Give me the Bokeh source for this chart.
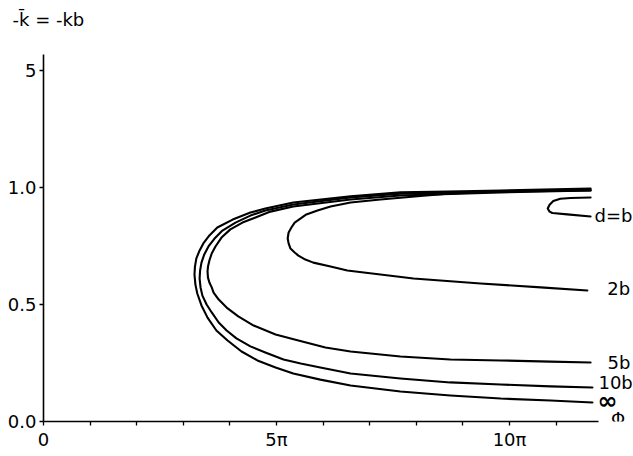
from bokeh.plotting import figure
from bokeh.models import Range1d, FixedTicker
from bokeh.embed import file_html
from bokeh.resources import INLINE
from bokeh.core.properties import value

# Phi in multiples of pi, ordinate -k_bar
inf_x = [11.74, 9.81, 8.67, 7.66, 6.59, 5.36, 4.76, 4.44, 4.06, 3.73, 3.56, 3.43, 3.35, 3.28, 3.25, 3.24, 3.26, 3.30,
         3.39, 3.52, 3.71, 3.95, 4.25, 4.59, 4.98, 5.36, 5.94, 6.59, 7.66, 8.73, 9.81, 10.88, 11.78]
inf_y = [0.996, 0.987, 0.983, 0.979, 0.962, 0.936, 0.910, 0.893, 0.863, 0.829, 0.795, 0.761, 0.731, 0.697, 0.662, 0.628, 0.585, 0.547,
         0.496, 0.444, 0.389, 0.346, 0.299, 0.261, 0.231, 0.205, 0.179, 0.154, 0.128, 0.111, 0.098, 0.090, 0.081]

d10_x = [11.74, 9.81, 7.66, 6.59, 5.36, 4.76, 4.44, 4.12, 3.84, 3.67, 3.54, 3.45, 3.39, 3.36, 3.35, 3.37, 3.41,
         3.50, 3.61, 3.76, 3.93, 4.14, 4.44, 4.76, 5.15, 5.52, 5.94, 6.59, 7.66, 8.73, 9.81, 10.88, 11.78]
d10_y = [0.991, 0.983, 0.974, 0.957, 0.927, 0.902, 0.880, 0.850, 0.816, 0.782, 0.748, 0.714, 0.679, 0.645, 0.611, 0.573, 0.538,
         0.500, 0.466, 0.423, 0.389, 0.355, 0.321, 0.295, 0.265, 0.248, 0.231, 0.205, 0.184, 0.167, 0.158, 0.150, 0.145]

d5_x = [11.74, 9.81, 7.66, 6.59, 5.36, 4.87, 4.55, 4.27, 4.01, 3.82, 3.69, 3.61, 3.56, 3.53, 3.52, 3.53, 3.56, 3.61,
        3.65, 3.76, 3.93, 4.18, 4.51, 4.98, 5.47, 6.05, 6.59, 7.66, 8.73, 9.81, 10.88, 11.74]
d5_y = [0.987, 0.979, 0.966, 0.949, 0.919, 0.897, 0.872, 0.850, 0.821, 0.786, 0.748, 0.718, 0.688, 0.662, 0.641, 0.615, 0.594, 0.573,
        0.551, 0.521, 0.487, 0.449, 0.410, 0.372, 0.346, 0.316, 0.299, 0.278, 0.265, 0.261, 0.256, 0.252]

d2_x = [11.74, 9.81, 8.67, 8.09, 7.23, 6.59, 6.16, 5.88, 5.64, 5.52, 5.39, 5.32, 5.26, 5.24, 5.26, 5.30, 5.39,
        5.47, 5.62, 5.79, 6.16, 6.52, 7.23, 7.94, 9.38, 10.67, 11.67]
d2_y = [0.987, 0.983, 0.974, 0.964, 0.949, 0.936, 0.919, 0.902, 0.885, 0.868, 0.850, 0.829, 0.808, 0.782, 0.761, 0.739, 0.722,
        0.709, 0.692, 0.679, 0.662, 0.645, 0.628, 0.611, 0.590, 0.573, 0.560]

d1_x = [11.74, 11.31, 11.09, 10.94, 10.86, 10.82, 10.86, 10.92, 11.24, 11.74]
d1_y = [0.957, 0.955, 0.952, 0.942, 0.926, 0.910, 0.897, 0.891, 0.885, 0.876]

curve_names = ["d=b", "2b", "5b", "10b", "\u221e"]
x_ticks = [0, 5, 10]
x_minor = [1, 2, 3, 4, 6, 7, 8, 9, 11]
x_tick_labels = ["0", "5\u03c0", "10\u03c0"]
y_ticks = [0.0, 0.5, 1.0, 1.5]
y_tick_labels = ["0.0", "0.5", "1.0", "5"]
x_axis_end = 11.9
y_axis_end = 1.57
x_title = "\u03a6"
y_title = "-k\u0304 = -kb"

FONT = "DejaVu Sans"
W, H = 633, 456
ML, MB, MT = 43, 35, 30
px_per_x = 46.6
px_per_y = 234.0

p = figure(width=W, height=H, output_backend="svg", toolbar_location=None,
           x_range=Range1d(0, (W - ML) / px_per_x),
           y_range=Range1d(0, (H - MB - MT) / px_per_y),
           min_border_left=ML, min_border_bottom=MB,
           min_border_top=MT, min_border_right=0)
p.outline_line_color = None
p.xgrid.visible = False
p.ygrid.visible = False
p.background_fill_color = "white"

p.title.text = y_title
p.title.align = "left"
p.title.offset = -31
p.title.standoff = 2
p.title.text_font = FONT
p.title.text_font_size = "18px"
p.title.text_font_style = "normal"
p.title.text_color = "black"

for ax in (p.xaxis[0], p.yaxis[0]):
    ax.axis_line_color = "black"
    ax.axis_line_width = 1.6
    ax.major_tick_line_color = "black"
    ax.minor_tick_line_color = "black"
    ax.major_tick_line_width = 1.3
    ax.minor_tick_line_width = 1.3
    ax.major_tick_in = 0
    ax.major_tick_out = 4
    ax.minor_tick_in = 0
    ax.minor_tick_out = 4
    ax.major_label_text_font = FONT
    ax.major_label_text_font_size = "18px"
    ax.major_label_text_color = "black"
    ax.major_label_standoff = 3

p.xaxis[0].ticker = FixedTicker(ticks=x_ticks, minor_ticks=x_minor)
p.xaxis[0].major_label_overrides = {t: l for t, l in zip(x_ticks, x_tick_labels)}
p.xaxis[0].bounds = (0, x_axis_end)
p.yaxis[0].ticker = FixedTicker(ticks=y_ticks, minor_ticks=[])
p.yaxis[0].major_label_overrides = {t: l for t, l in zip(y_ticks, y_tick_labels)}
p.yaxis[0].bounds = (0, y_axis_end)

curves = [(d1_x, d1_y), (d2_x, d2_y), (d5_x, d5_y), (d10_x, d10_y), (inf_x, inf_y)]
label_dx = [4, 20, 17, 6, 5]
label_dy = [-1, -2, 0, -5, -2]
label_size = ["18px", "18px", "18px", "18px", "24px"]
label_style = ["normal", "normal", "normal", "normal", "bold"]
for (cx, cy), name, dx, dy, fs, st in zip(curves, curve_names, label_dx, label_dy, label_size, label_style):
    p.line(cx, cy, line_color="black", line_width=2.1, line_join="round", line_cap="round")
    p.text([cx[-1]], [cy[-1]], text=[name], x_offset=dx, y_offset=dy,
           text_font=value(FONT), text_font_size=fs, text_font_style=st, text_color="black",
           text_baseline="middle", text_align="left")

p.text([x_axis_end], [0], text=[x_title], x_offset=13, y_offset=-3,
       text_font=value(FONT), text_font_size="18px", text_color="black",
       text_baseline="middle", text_align="left")

open("out.html", "w").write(file_html(p, INLINE))
